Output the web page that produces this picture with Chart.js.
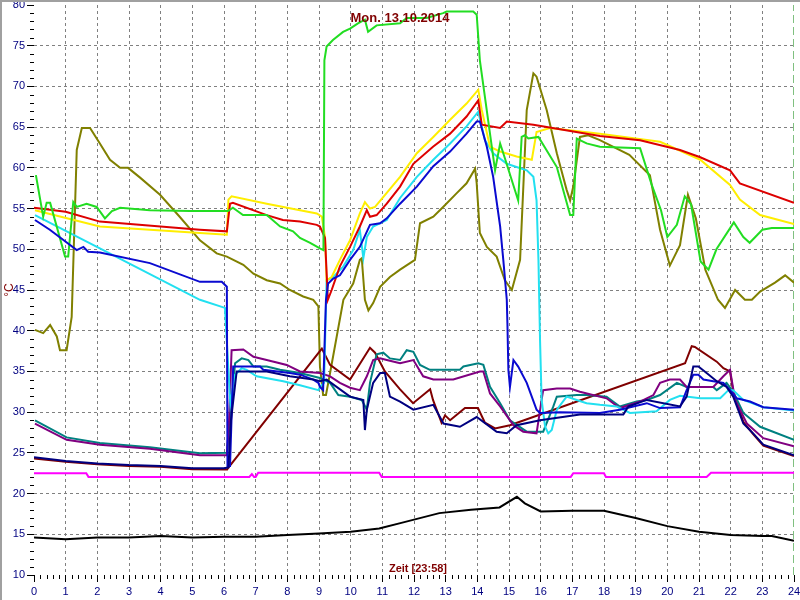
<!DOCTYPE html>
<html>
<head>
<meta charset="utf-8">
<title>Temperaturverlauf</title>
<script src="https://cdn.jsdelivr.net/npm/chart.js@4.4.0/dist/chart.umd.min.js"></script>
<style>
  html, body { margin: 0; padding: 0; background: #fff; }
</style>
</head>
<body>
<canvas id="chart" width="800" height="600"></canvas>
<script>
// Messwerte als [Stunde, °C]
const gruen = [[0.06,59.1],[0.29,54.0],[0.40,55.7],[0.51,55.7],[0.98,49.1],[1.08,49.1],[1.24,55.8],[1.35,55.2],[1.66,55.6],[1.98,55.2],[2.24,53.8],[2.46,54.7],[2.72,55.1],[3.66,54.8],[4.93,54.7],[6.13,54.7],[6.28,55.1],[6.6,54.2],[7.35,54.2],[7.77,52.8],[8.18,52.2],[8.4,51.4],[8.72,50.8],[9.03,50.1],[9.14,49.9],[9.17,73.2],[9.24,74.9],[9.44,75.7],[9.76,76.7],[9.98,77.1],[10.23,77.75],[10.45,78.2],[10.55,76.7],[10.82,77.5],[11.56,77.75],[11.77,78.4],[12.4,78.4],[12.92,79.0],[13.03,79.2],[13.87,79.2],[13.98,78.8],[14.08,73.2],[14.56,59.7],[14.72,63.0],[14.82,61.8],[15.29,56.0],[15.4,63.8],[15.5,64.0],[15.61,63.6],[15.93,63.8],[16.51,60.1],[16.93,54.2],[17.03,54.2],[17.14,63.6],[17.45,63.0],[17.87,62.6],[19.14,62.4],[19.5,58.0],[19.8,54.8],[20.0,51.5],[20.3,53.0],[20.55,56.5],[20.75,55.5],[21.05,48.5],[21.3,47.5],[21.55,50.0],[22.1,53.3],[22.4,51.5],[22.6,50.8],[23.0,52.4],[23.3,52.6],[24.0,52.6]];
const rot = [[0,55.1],[1,54.6],[2.08,53.4],[5.24,52.4],[6.09,52.2],[6.19,55.6],[6.28,55.7],[7.35,54.2],[7.86,53.6],[8.4,53.4],[8.93,53.0],[9.03,52.8],[9.19,51.4],[9.28,43.8],[9.4,45.0],[9.66,47.9],[9.98,50.3],[10.29,52.8],[10.51,54.8],[10.61,54.0],[10.82,54.2],[11.14,55.6],[11.56,57.7],[11.98,60.5],[12.6,62.6],[13.14,64.2],[13.66,66.3],[14.03,68.3],[14.14,65.3],[14.72,64.9],[14.93,65.7],[15.77,65.3],[17.87,63.9],[19.14,63.4],[20.4,62.2],[21.04,61.3],[21.98,59.7],[22.29,58.1],[24,55.7]];
const gelb = [[0.03,54.8],[2.08,52.8],[5.24,52.0],[6.09,51.8],[6.14,56.1],[6.24,56.5],[7.35,55.6],[8.4,54.8],[8.93,54.4],[9.09,54.0],[9.19,51.5],[9.24,46.2],[9.4,46.6],[9.66,48.7],[9.98,51.1],[10.29,54.4],[10.45,55.8],[10.61,55.0],[10.77,55.2],[11.56,58.9],[12.09,61.8],[12.61,63.8],[13.14,65.9],[13.66,67.9],[14.03,69.6],[14.14,67.1],[14.4,62.6],[14.72,62.0],[15.24,61.4],[15.72,61.0],[15.87,64.4],[16.29,64.9],[17.87,64.2],[19.77,63.2],[21.04,61.0],[21.98,57.9],[22.29,56.1],[22.93,54.2],[24,53.1]];
const tuerkis = [[0.03,54.2],[2.08,50.1],[5.24,43.8],[6.03,42.8],[6.2,31.0],[6.29,33.1],[6.35,34.6],[6.56,35.4],[6.72,35.2],[7.03,34.4],[7.87,33.8],[8.4,33.3],[8.98,32.7],[9.03,33.1],[9.16,33.6],[9.24,46.2],[9.45,46.6],[9.77,47.9],[10.08,49.9],[10.29,52.4],[10.4,48.9],[10.51,51.5],[10.71,52.8],[11.14,53.6],[11.56,56.3],[12.09,58.9],[12.61,61.0],[13.14,63.0],[13.66,65.1],[14.03,66.9],[14.24,63.4],[14.5,61.8],[14.93,60.5],[15.56,59.7],[15.77,58.9],[15.87,56.0],[15.93,48.7],[15.98,38.9],[16.03,31.5],[16.14,28.2],[16.24,27.4],[16.35,27.8],[16.51,30.3],[16.82,31.9],[17.14,31.5],[17.45,31.1],[17.87,30.9],[18.4,30.7],[18.82,29.9],[19.66,30.1],[20.08,31.5],[20.4,32.0],[21.04,31.7],[21.67,31.7],[21.93,32.7],[22.08,32.7],[22.4,31.5],[23.03,30.6],[24,30.2]];
const blau = [[0.03,53.6],[0.5,52.4],[1.35,49.9],[1.56,50.3],[1.71,49.7],[2.08,49.6],[3.66,48.3],[5.24,46.0],[5.93,46.0],[6.09,45.4],[6.11,23.4],[6.19,23.4],[6.29,35.6],[7.14,35.6],[7.24,35.2],[8.08,34.8],[8.4,34.6],[8.82,34.0],[8.98,33.6],[9.03,33.1],[9.13,32.7],[9.22,43.8],[9.29,45.8],[9.45,46.4],[9.66,46.8],[9.98,48.7],[10.29,50.3],[10.61,53.0],[10.93,53.2],[11.14,53.8],[11.56,55.6],[12.09,57.7],[12.61,60.2],[13.14,62.0],[13.66,64.2],[13.98,65.7],[14.08,65.7],[14.3,62.6],[14.5,58.9],[14.72,52.8],[14.82,48.7],[14.93,43.8],[14.95,40.9],[14.98,35.2],[15.03,33.1],[15.14,36.4],[15.29,35.6],[15.56,33.6],[15.87,30.3],[15.98,29.9],[16.61,30.0],[17.87,29.9],[18.5,30.3],[19.35,31.1],[19.77,30.5],[20.4,30.6],[20.61,32.7],[20.82,34.6],[20.98,34.6],[21.14,34.0],[21.45,33.8],[21.77,33.6],[21.98,32.7],[22.19,31.7],[22.61,31.3],[23.03,30.6],[24,30.3]];
const marine = [[0,24.45],[1,24.0],[2,23.7],[3,23.5],[4,23.4],[5,23.1],[6,23.1],[6.14,23.2],[6.22,29.0],[6.4,35.0],[7.35,35.0],[8.08,34.4],[8.82,34.0],[9.03,33.8],[9.24,34.0],[9.98,31.9],[10.4,31.5],[10.45,27.8],[10.51,30.3],[10.71,33.6],[10.93,34.8],[11.08,34.8],[11.24,31.9],[11.56,31.3],[11.98,30.3],[12.61,30.9],[12.93,28.6],[13.45,28.2],[13.98,29.4],[14.61,27.6],[14.93,27.4],[15.24,28.4],[15.98,29.0],[17.24,29.7],[18.61,29.7],[18.77,30.7],[19.35,31.5],[20.4,30.7],[20.61,31.9],[20.82,35.6],[20.98,35.6],[21.24,34.8],[21.56,33.8],[21.87,33.1],[22.08,31.9],[22.4,28.6],[22.71,27.4],[23.03,26.0],[24,24.7]];
const braun = [[0,24.3],[1,23.9],[2,23.6],[3,23.4],[4,23.3],[5,23.0],[6.1,22.95],[6.14,23.2],[9.09,37.8],[9.35,35.8],[9.98,34.0],[10.61,37.9],[10.77,37.3],[11.08,35.0],[11.56,32.8],[11.97,31.1],[12.51,32.8],[12.6,31.5],[12.87,28.7],[12.98,29.6],[13.14,29.0],[13.61,30.5],[14.02,30.5],[14.24,28.7],[14.56,28.0],[15.03,28.4],[20.56,36.0],[20.77,38.1],[20.87,38.0],[21.56,36.2],[21.77,35.4],[21.98,35.0],[22.08,32.5],[22.4,28.8],[22.71,27.3],[23.03,25.9],[24,24.6]];
const lila = [[0.03,28.6],[1.03,26.6],[2.08,26.0],[3.66,25.5],[5.24,24.7],[6.09,24.7],[6.16,29.0],[6.24,37.6],[6.61,37.7],[6.93,36.8],[7.35,36.4],[7.98,35.8],[8.4,35.0],[9.03,34.8],[9.35,34.4],[9.66,33.6],[9.98,33.0],[10.29,32.7],[10.51,34.4],[10.71,36.4],[10.93,36.6],[11.14,36.4],[11.56,36.0],[11.98,36.4],[12.29,34.4],[12.61,34.0],[13.24,34.0],[14.08,35.0],[14.19,35.0],[14.4,32.3],[14.72,30.7],[15.14,28.4],[15.45,27.6],[15.87,27.4],[16.03,31.5],[16.08,32.7],[16.51,32.9],[16.93,32.9],[17.24,32.5],[18.08,31.7],[18.5,30.5],[19.14,31.3],[19.56,32.1],[19.77,33.6],[20.08,34.0],[20.4,34.0],[20.61,33.1],[21.45,33.1],[21.77,34.4],[21.98,35.2],[22.14,31.5],[22.51,28.6],[23.03,26.8],[24,25.8]];
const petrol = [[0.03,29.0],[1.03,26.9],[2.08,26.2],[3.66,25.7],[5.24,24.95],[6.09,25.0],[6.25,31.5],[6.35,36.0],[6.56,36.6],[6.77,36.4],[6.93,35.6],[7.35,35.6],[7.77,35.2],[8.4,34.8],[9.03,34.2],[9.35,33.6],[9.61,32.1],[9.98,31.9],[10.35,31.5],[10.51,30.3],[10.61,33.6],[10.82,37.1],[11.03,37.3],[11.24,36.6],[11.56,36.4],[11.77,37.6],[11.98,37.4],[12.19,35.8],[12.5,35.2],[13.45,35.2],[13.56,35.6],[14.03,36.0],[14.19,35.8],[14.4,33.1],[14.72,31.1],[15.03,29.0],[15.56,27.6],[16.08,27.6],[16.4,30.7],[16.51,31.9],[17.14,32.1],[17.45,32.1],[18.08,31.9],[18.5,30.7],[19.03,31.3],[19.35,31.5],[19.77,32.1],[20.3,33.6],[20.61,33.1],[21.45,33.1],[21.56,32.7],[21.87,33.6],[22.08,32.5],[22.4,29.9],[22.93,28.2],[24,26.6]];
const oliv = [[0.03,40.1],[0.29,39.7],[0.51,40.7],[0.72,39.3],[0.82,37.6],[1.03,37.6],[1.19,41.7],[1.35,62.2],[1.51,64.9],[1.77,64.9],[2.08,63.0],[2.4,61.0],[2.72,60.0],[2.97,60.0],[3.35,58.8],[3.98,56.7],[4.6,54.0],[5.24,51.1],[5.77,49.5],[6.09,49.1],[6.61,48.1],[6.93,47.0],[7.35,46.2],[7.77,45.8],[8.08,45.0],[8.5,44.2],[8.82,43.8],[8.98,43.0],[9.03,35.6],[9.13,32.1],[9.22,32.1],[9.35,34.8],[9.77,43.8],[10.08,45.8],[10.29,48.7],[10.35,48.9],[10.45,43.8],[10.56,42.5],[10.71,43.4],[10.93,45.4],[11.24,46.6],[11.56,47.5],[12.03,48.7],[12.19,53.2],[12.61,54.0],[12.92,55.2],[13.35,56.9],[13.66,58.1],[13.93,59.9],[13.98,58.1],[14.08,52.0],[14.3,50.3],[14.61,49.1],[14.87,46.2],[15.09,45.0],[15.35,48.7],[15.56,67.1],[15.77,71.6],[15.87,71.2],[16.19,67.1],[16.51,61.8],[16.82,57.3],[16.93,56.0],[17.03,57.7],[17.24,63.8],[17.5,64.0],[17.87,63.4],[18.8,61.6],[19.45,59.1],[19.77,52.4],[20.08,48.0],[20.4,50.5],[20.65,56.7],[20.9,53.8],[21.2,47.5],[21.6,43.8],[21.82,42.8],[22.14,45.0],[22.45,43.8],[22.67,43.8],[22.93,44.8],[23.4,45.9],[23.72,46.8],[24,45.9]];
const magenta = [[0,22.5],[1.65,22.5],[1.72,22.05],[6.8,22.05],[6.88,22.4],[6.95,22.05],[7.0,22.05],[7.08,22.55],[10.9,22.55],[10.98,22.05],[16.95,22.05],[17.03,22.5],[18.0,22.5],[18.06,22.05],[21.24,22.05],[21.38,22.55],[24,22.55]];
const schwarz = [[0,14.6],[1,14.4],[2,14.6],[3,14.6],[4,14.8],[5,14.6],[6,14.7],[7,14.7],[8,14.9],[9,15.1],[10,15.3],[10.9,15.7],[11.6,16.4],[12.8,17.6],[13.8,18.0],[14.7,18.3],[15.25,19.6],[15.5,18.8],[16,17.8],[17,17.9],[18,17.9],[19,17.0],[20,16.0],[21,15.3],[22,14.9],[23,14.8],[23.3,14.8],[24,14.2]];
const ende = [[24,10],[24,80]];

const titel = 'Mon. 13.10.2014';
const xTitel = 'Zeit [23:58]';
const yTitel = '°C';

const schrift = '"Liberation Sans", Arial, sans-serif';

function linie(daten, farbe, extra) {
    return Object.assign({
        data: daten.map(([x, y]) => ({x, y})),
        borderColor: farbe,
        borderWidth: 2,
        pointRadius: 0,
        tension: 0,
        fill: false
    }, extra || {});
}

// Nebenstriche, Rahmen und Beschriftungen
const beschriftung = {
    id: 'beschriftung',
    beforeDraw(chart) {
        const ctx = chart.ctx;
        ctx.save();
        ctx.fillStyle = '#ffffff';
        ctx.fillRect(0, 0, chart.width, chart.height);
        ctx.restore();
    },
    afterDraw(chart) {
        const {ctx, chartArea: a} = chart;
        const x = chart.scales.x, y = chart.scales.y;
        ctx.save();
        ctx.strokeStyle = '#000000';
        ctx.lineWidth = 1;
        ctx.beginPath();
        for (let v = 10; v <= 80; v++) {
            if (v % 5 === 0) continue;
            const py = Math.round(y.getPixelForValue(v)) + 0.5;
            ctx.moveTo(a.left - 4, py);
            ctx.lineTo(a.left, py);
        }
        for (let i = 0; i <= 120; i++) {
            if (i % 5 === 0) continue;
            const px = Math.round(x.getPixelForValue(i / 5)) + 0.5;
            ctx.moveTo(px, a.bottom);
            ctx.lineTo(px, a.bottom + 4);
        }
        ctx.stroke();

        ctx.strokeStyle = '#a0a0a0';
        ctx.lineWidth = 2;
        ctx.beginPath();
        ctx.moveTo(1, chart.height);
        ctx.lineTo(1, 1);
        ctx.lineTo(chart.width, 1);
        ctx.stroke();

        ctx.fillStyle = '#800000';
        ctx.textAlign = 'center';
        ctx.textBaseline = 'middle';
        ctx.font = 'bold 13px ' + schrift;
        ctx.fillText(titel, 400, 18);
        ctx.font = 'bold 11px ' + schrift;
        ctx.fillText(xTitel, 418, 569);
        ctx.translate(10, 290);
        ctx.rotate(-Math.PI / 2);
        ctx.font = '12px ' + schrift;
        ctx.fillText(yTitel, 0, 0);
        ctx.restore();
    }
};

const randLos = (werte) => (c) => (c.tick && werte.includes(c.tick.value)) ? 'rgba(0,0,0,0)' : '#808080';

new Chart(document.getElementById('chart'), {
    type: 'line',
    data: {
        datasets: [
            linie(marine, '#000080'),
            linie(blau, '#0a0ad0'),
            linie(gruen, '#22dd22'),
            linie(rot, '#dd0000'),
            linie(gelb, '#ffee00'),
            linie(tuerkis, '#22e0f0'),
            linie(lila, '#800080'),
            linie(petrol, '#008080'),
            linie(braun, '#800000'),
            linie(oliv, '#808000'),
            linie(magenta, '#ff00ff'),
            linie(schwarz, '#000000'),
            linie(ende, '#008000', {borderWidth: 1, borderDash: [8, 4]})
        ]
    },
    options: {
        responsive: false,
        animation: false,
        layout: { padding: { top: 5, right: 6, left: 0, bottom: 0 } },
        plugins: {
            legend: { display: false },
            tooltip: { enabled: false },
            title: { display: false }
        },
        scales: {
            x: {
                type: 'linear',
                min: 0,
                max: 24,
                afterFit(s) { s.height = 25; s.paddingLeft = 0; s.paddingRight = 0; },
                ticks: { stepSize: 1, color: '#000080', padding: 3, maxRotation: 0, autoSkip: false, font: { size: 11, family: schrift } },
                grid: { color: randLos([0, 24]), tickColor: '#000000', tickLength: 7, lineWidth: 1 },
                border: { display: false, dash: [3, 3] }
            },
            y: {
                type: 'linear',
                min: 10,
                max: 80,
                afterFit(s) { s.width = 34; s.paddingTop = 0; s.paddingBottom = 0; },
                ticks: { stepSize: 5, color: '#000080', padding: 2, font: { size: 11, family: schrift } },
                grid: { color: randLos([10, 80]), tickColor: '#000000', tickLength: 7, lineWidth: 1 },
                border: { display: false, dash: [3, 3] }
            }
        }
    },
    plugins: [beschriftung]
});
</script>
</body>
</html>
